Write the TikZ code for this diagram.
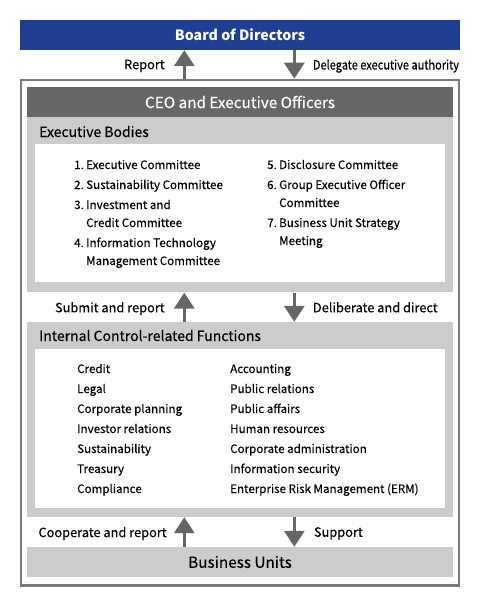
\documentclass[tikz,border=0pt]{standalone}
\usepackage{fontspec}
\setmainfont{Noto Sans CJK JP}[UprightFeatures={FakeBold=0.2}]
\usetikzlibrary{arrows.meta,positioning}
\newcommand{\barwidth}{426pt}
\newcommand{\barheight}{30pt}
\newcommand{\listwidth}{410pt}
\definecolor{boardBlue}{RGB}{30,63,146}
\definecolor{ceoGray}{RGB}{102,102,102}
\definecolor{paleGray}{RGB}{204,204,204}
\definecolor{frameGray}{RGB}{122,122,122}
\tikzset{
  x=1pt,y=-1pt,
  font=\fontsize{11.6}{14}\selectfont,
  bar/.style={shape=rectangle,minimum width=\barwidth,minimum height=\barheight,inner sep=0,font=\fontsize{15.3}{18}\selectfont},
  panel/.style={fill=paleGray,minimum width=\barwidth,inner sep=0},
  listbox/.style={fill=white,minimum width=\listwidth,inner sep=0},
  heading/.style={anchor=base west,inner sep=0,font=\fontsize{14}{16}\selectfont},
  item/.style={anchor=base west,inner sep=0},
  flow/.style={draw=ceoGray,line width=3.3pt,-{Triangle[width=20pt,length=16pt]}},
  note/.style={inner sep=0,text depth=0pt,font=\fontsize{12.8}{15}\selectfont},
}

\begin{document}
\begin{tikzpicture}
  \useasboundingbox (0,0) rectangle (480,607);
  % top and outer frame
  \node (board) [bar,fill=boardBlue,text=white,minimum width=440pt,font=\fontsize{14.2}{17}\selectfont\bfseries] at (240,35) {Board of Directors};
  \node (frame) [draw=frameGray,line width=2.6pt,minimum width=438pt,minimum height=505.5pt,inner sep=0] at (240,332.75) {};
  \node (ceo) [bar,fill=ceoGray,text=white] at (240,102) {CEO and Executive Officers};
  % executive bodies
  \node (exec) [panel,minimum height=175pt,below=0pt of ceo] {};
  \node (execTitle) [heading] at (39,137) {Executive Bodies};
  \node (execList) [listbox,minimum height=138pt] at (240,213) {};
  \foreach \y/\n [count=\i] in {169/1.,189/2.,209/3.,247/4.}
    \node (exNumL\i) [item] at (74,\y) {\n};
  \foreach \y/\t [count=\i] in {169/Executive Committee,189/Sustainability Committee,209/Investment and,227/Credit Committee,247/Information Technology,265/Management Committee}
    \node (exL\i) [item] at (86,\y) {\t};
  \foreach \y/\n [count=\i] in {169/5.,189/6.,227/7.}
    \node (exNumR\i) [item] at (267,\y) {\n};
  \foreach \y/\t [count=\i] in {169/Disclosure Committee,189/Group Executive Officer,207/Committee,227/Business Unit Strategy,245/Meeting}
    \node (exR\i) [item] at (279,\y) {\t};
  % internal control
  \node (internal) [panel,minimum height=195pt] at (240,419.5) {};
  \node (intTitle) [heading] at (39,341) {Internal Control-related Functions};
  \node (intList) [listbox,minimum height=159pt] at (240,428.5) {};
  \foreach \t [count=\i] in {Credit,Legal,Corporate planning,Investor relations,Sustainability,Treasury,Compliance}
    \node (intL\i) [item] at (77,353+20*\i) {\t};
  \foreach \t [count=\i] in {Accounting,Public relations,Public affairs,Human resources,Corporate administration,Information security,Enterprise Risk Management (ERM)}
    \node (intR\i) [item] at (230,353+20*\i) {\t};
  % business units
  \node (bu) [bar,fill=paleGray] at (240,562) {Business Units};
  % connectors
  \coordinate (upX) at (184.3,0);
  \coordinate (downX) at (294.3,0);
  \draw [flow] (frame.north -| upX) -- (board.south -| upX)
    node (rptLabel) [note,midway,anchor=east,left=18pt] {Report};
  \draw [flow] (board.south -| downX) -- (frame.north -| downX)
    node (dlgLabel) [note,midway,anchor=west,right=17pt] {\scalebox{0.86}[1]{Delegate executive authority}};
  \draw [flow] (internal.north -| upX) -- (exec.south -| upX)
    node (subLabel) [note,midway,anchor=east,left=18pt] {Submit and report};
  \draw [flow] (exec.south -| downX) -- (internal.north -| downX)
    node (delLabel) [note,midway,anchor=west,right=17pt] {Deliberate and direct};
  \draw [flow] (bu.north -| upX) -- (internal.south -| upX)
    node (coLabel) [note,midway,anchor=east,left=16pt] {Cooperate and report};
  \draw [flow] (internal.south -| downX) -- (bu.north -| downX)
    node (supLabel) [note,midway,anchor=west,right=18pt] {Support};
\end{tikzpicture}
\end{document}
